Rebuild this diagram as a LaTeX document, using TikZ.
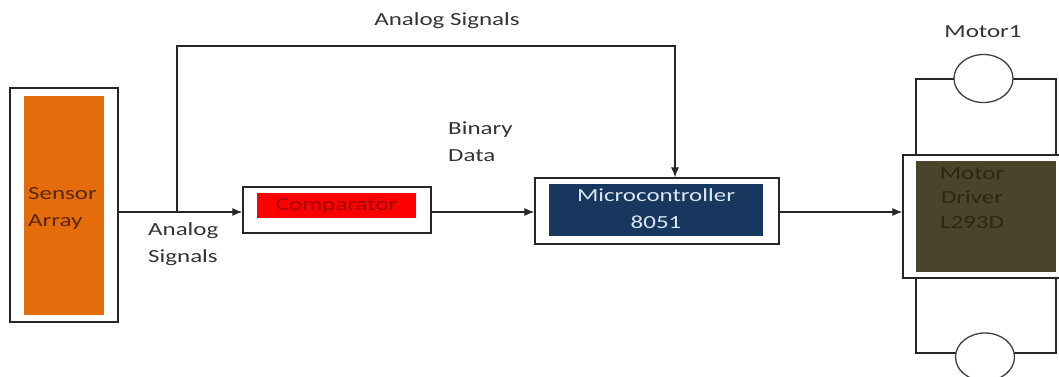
\documentclass[tikz,border=0pt]{standalone}
\usepackage{fontspec}
\setmainfont{Carlito}[FakeStretch=1.35]
\usetikzlibrary{arrows.meta,shapes.geometric}
\definecolor{sensororange}{HTML}{E46C0A}
\definecolor{sensortext}{HTML}{5A2608}
\definecolor{compred}{HTML}{FF0000}
\definecolor{comptext}{HTML}{A00000}
\definecolor{micronavy}{HTML}{17375E}
\definecolor{microtext}{HTML}{DCE6F2}
\definecolor{driverolive}{HTML}{4A442A}
\definecolor{drivertext}{HTML}{2B2717}
\definecolor{labeltext}{HTML}{333333}
\tikzset{
  outerbox/.style={draw=black!85, line width=1.3pt, fill=white, inner sep=0pt},
  innerbox/.style={inner sep=0pt, draw=none},
  wire/.style={draw=black!85, line width=1.2pt},
  arr/.style={wire, -{Latex[length=10pt,width=8pt]}},
  lbl/.style={text=labeltext, font=\fontsize{18.5}{27}\selectfont, inner sep=0pt},
  motor/.style={draw=black!75, line width=1.3pt, fill=white, ellipse, minimum width=59pt, minimum height=48pt, inner sep=0pt}
}
\begin{document}
\begin{tikzpicture}[x=1pt,y=-1pt]
\useasboundingbox (0,0) rectangle (1059,376);
% Sensor array
\node[outerbox, minimum width=108pt, minimum height=234pt] (sensor) at (64,205) {};
\node[innerbox, fill=sensororange, minimum width=80pt, minimum height=219pt] (sensorin) at (64,205.5) {};
\node[lbl, text=sensortext, align=left, anchor=west] (sensortxt) at (28,208) {Sensor\\Array};
% Comparator
\node[outerbox, minimum width=188pt, minimum height=46pt] (comp) at (337,210) {};
\node[innerbox, fill=compred, minimum width=159pt, minimum height=25pt] (compin) at (336.5,205.5) {};
\node[lbl, text=comptext] (comptxt) at (336.5,205.5) {Comparator};
% Microcontroller
\node[outerbox, minimum width=244pt, minimum height=66pt] (micro) at (657,211) {};
\node[innerbox, fill=micronavy, minimum width=214pt, minimum height=52pt] (microin) at (656,210) {};
\node[lbl, text=microtext, align=center] (microtxt) at (656,209) {Microcontroller\\8051};
% Motor driver
\node[outerbox, minimum width=170pt, minimum height=123pt] (driver) at (988,216.5) {};
\node[innerbox, fill=driverolive, minimum width=140pt, minimum height=111pt] (driverin) at (986,216) {};
\node[lbl, text=drivertext, align=center, font=\fontsize{18.5}{24.5}\selectfont] (drivertxt) at (972,198) {Motor\\Driver\\L293D};
% Motors
\coordinate (tl) at (916,79);
\coordinate (tr) at (1056,79);
\coordinate (bl) at (916,353);
\coordinate (br) at (1056,353);
\coordinate (dtl) at (916,155);
\coordinate (dtr) at (1056,155);
\coordinate (dbl) at (916,278);
\coordinate (dbr) at (1056,278);
\draw[wire] (dtl) -- (tl) -- (tr) -- (dtr);
\draw[wire] (dbl) -- (bl) -- (br) -- (dbr);
\node[motor] (motor1) at (983.5,78.5) {};
\node[motor] (motor2) at (985,357) {};
\node[lbl] (motor1txt) at (983,32) {Motor1};
% Connections
\coordinate (branch) at (177,212);
\coordinate (topl) at (177,46);
\coordinate (topr) at (675,46);
\draw[arr] (sensor.east |- branch) -- (comp.west |- branch);
\draw[arr] (branch) -- (topl) -- (topr) -- (topr |- micro.north);
\draw[arr] (comp.east |- 0,212) -- (micro.west |- 0,212);
\draw[arr] (micro.east |- 0,212) -- (driver.west |- 0,212);
% Labels
\node[lbl] (toplbl) at (447,21) {Analog Signals};
\node[lbl, align=left, anchor=west] (anlbl) at (148,244) {Analog\\Signals};
\node[lbl, align=left, anchor=west] (binlbl) at (448,142) {Binary\\Data};
\end{tikzpicture}
\end{document}
